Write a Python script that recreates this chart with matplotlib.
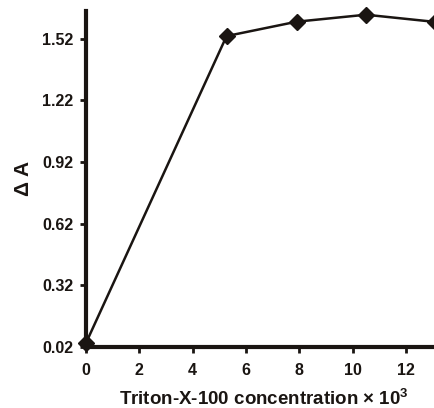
import matplotlib
matplotlib.use('Agg')
import matplotlib.pyplot as plt

conc = [0, 5.27, 7.9, 10.5, 13.09]
dA = [0.04, 1.533, 1.603, 1.637, 1.602]
yticks = [0.02, 0.32, 0.62, 0.92, 1.22, 1.52]
xticks = [0, 2, 4, 6, 8, 10, 12]

plt.rcParams['font.family'] = ['Liberation Sans', 'DejaVu Sans']
plt.rcParams['font.weight'] = 'bold'
plt.rcParams['mathtext.fontset'] = 'custom'
plt.rcParams['mathtext.bf'] = 'Liberation Sans:bold'

fig = plt.figure(figsize=(4.35, 4.08), dpi=100)
ax = fig.add_axes([0.198, 0.150, 0.802, 0.823])
ax.plot(conc, dA, color='#1a1512', lw=1.8, marker='D', ms=8.5,
        mfc='#1a1512', mec='#1a1512', clip_on=False, zorder=3)

ax.set_xlim(0, 13.09)
ax.set_ylim(0.02, 1.655)
ax.set_xticks(xticks)
ax.set_yticks(yticks)
ax.set_yticklabels(['%.2f' % v for v in yticks])
for s in ['top', 'right']:
    ax.spines[s].set_visible(False)
for s in ['left', 'bottom']:
    ax.spines[s].set_linewidth(3)
    ax.spines[s].set_color('#1a1512')
ax.tick_params(direction='out', length=4, width=2, color='#1a1512',
               labelsize=11.5)
ax.tick_params(axis='x', pad=8)
ax.tick_params(axis='y', pad=5)
for lab in ax.get_xticklabels() + ax.get_yticklabels():
    lab.set_fontweight('bold')
    lab.set_color('#1a1512')

ax.set_xlabel('Triton-X-100 concentration × 10$^{\\mathbf{3}}$', fontsize=13.5,
              fontweight='bold', color='#1a1512')
ax.xaxis.label.set_va('center')
ax.xaxis.set_label_coords(0.51, -0.155)
ax.set_ylabel('Δ A', fontsize=15, fontweight='bold', color='#1a1512')
ax.yaxis.label.set_va('center')
ax.yaxis.set_label_coords(-0.18, 0.5)

fig.savefig('out.png', dpi=100)
